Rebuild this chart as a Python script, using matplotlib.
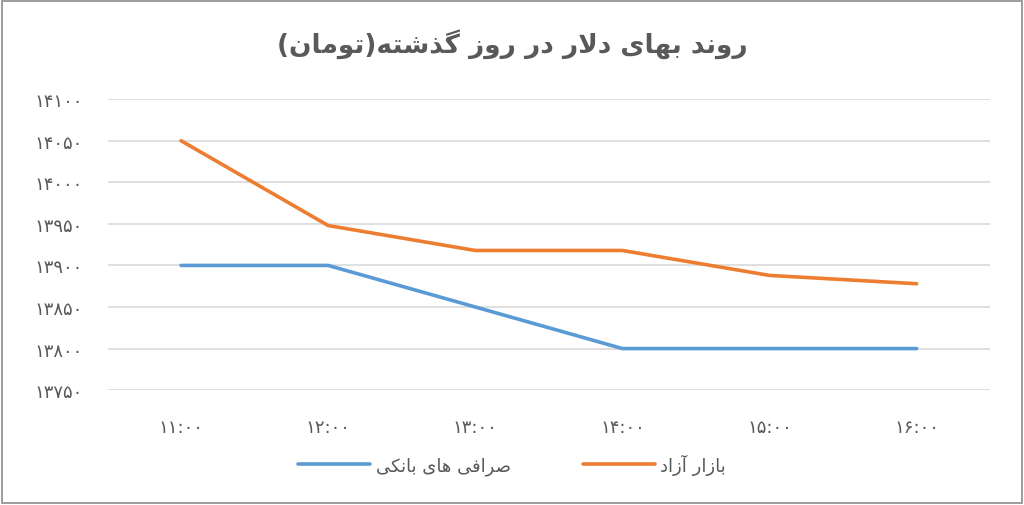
import matplotlib
matplotlib.use('Agg')
import matplotlib.pyplot as plt
from matplotlib.patches import Rectangle

# ── data ──
times = ['11:00', '12:00', '13:00', '14:00', '15:00', '16:00']
bank = [13900, 13900, 13850, 13800, 13800, 13800]
free = [14050, 13948, 13918, 13918, 13888, 13878]
yticks = [13750, 13800, 13850, 13900, 13950, 14000, 14050, 14100]

title = 'روند بهای دلار در روز گذشته(تومان)'
lbl_bank = 'صرافی های بانکی'
lbl_free = 'بازار آزاد'

# ── tiny Persian shaper (isolated, final, initial, medial) ──
FORMS = {
    'ا': (0xFE8D, 0xFE8E), 'آ': (0xFE81, 0xFE82),
    'د': (0xFEA9, 0xFEAA), 'ذ': (0xFEAB, 0xFEAC),
    'ر': (0xFEAD, 0xFEAE), 'ز': (0xFEAF, 0xFEB0), 'و': (0xFEED, 0xFEEE),
    'ب': (0xFE8F, 0xFE90, 0xFE91, 0xFE92), 'ت': (0xFE95, 0xFE96, 0xFE97, 0xFE98),
    'ش': (0xFEB5, 0xFEB6, 0xFEB7, 0xFEB8), 'ص': (0xFEB9, 0xFEBA, 0xFEBB, 0xFEBC),
    'ف': (0xFED1, 0xFED2, 0xFED3, 0xFED4), 'ل': (0xFEDD, 0xFEDE, 0xFEDF, 0xFEE0),
    'م': (0xFEE1, 0xFEE2, 0xFEE3, 0xFEE4), 'ن': (0xFEE5, 0xFEE6, 0xFEE7, 0xFEE8),
    'ه': (0xFEE9, 0xFEEA, 0xFEEB, 0xFEEC), 'ی': (0xFBFC, 0xFBFD, 0xFBFE, 0xFBFF),
    'ک': (0xFB8E, 0xFB8F, 0xFB90, 0xFB91), 'گ': (0xFB92, 0xFB93, 0xFB94, 0xFB95),
}


def shape(s):
    # lam-alef ligature
    chars = []
    i = 0
    while i < len(s):
        if s[i] == 'ل' and i + 1 < len(s) and s[i + 1] == 'ا':
            chars.append('LA')
            i += 2
        else:
            chars.append(s[i])
            i += 1

    def joins_next(c):
        return c in FORMS and len(FORMS[c]) == 4

    def is_ar(c):
        return c in FORMS or c == 'LA'

    out = []
    for k, c in enumerate(chars):
        prev = chars[k - 1] if k > 0 else None
        nxt = chars[k + 1] if k + 1 < len(chars) else None
        jp = prev is not None and joins_next(prev)
        if c == 'LA':
            out.append(chr(0xFEFC if jp else 0xFEFB))
            continue
        if c not in FORMS:
            out.append(c)
            continue
        f = FORMS[c]
        jn = len(f) == 4 and nxt is not None and is_ar(nxt)
        if jp and jn:
            out.append(chr(f[3]))
        elif jp:
            out.append(chr(f[1]))
        elif jn:
            out.append(chr(f[2]))
        else:
            out.append(chr(f[0]))
    vis = ''.join(reversed(out))
    return vis.translate(str.maketrans('()', ')('))


def fa_digits(s):
    return s.translate(str.maketrans('0123456789', '۰۱۲۳۴۵۶۷۸۹'))


plt.rcParams['font.family'] = ['DejaVu Sans']

fig = plt.figure(figsize=(10.24, 5.06), dpi=100)
fig.patch.set_facecolor('white')
fig.patches.append(Rectangle((0.002, 0.003), 0.996, 0.994, transform=fig.transFigure,
                             fill=False, edgecolor='#8c8c8c', linewidth=1.2))

ax = fig.add_axes([0.105, 0.227, 0.862, 0.575])
x = list(range(len(times)))
ax.plot(x, bank, color='#5b9bd5', lw=2.6, label=shape(lbl_bank), solid_capstyle='round')
ax.plot(x, free, color='#ed7d31', lw=2.6, label=shape(lbl_free), solid_capstyle='round')

ax.set_xlim(-0.5, 5.5)
ax.set_ylim(13750, 14100)
ax.set_yticks(yticks)
ax.set_yticklabels([fa_digits(str(v)) for v in yticks], color='#595959', fontsize=13)
ax.set_xticks(x)
ax.set_xticklabels([fa_digits(t) for t in times], color='#595959', fontsize=13)
ax.tick_params(length=0)
ax.tick_params(axis='y', pad=18)
ax.tick_params(axis='x', pad=20)
ax.grid(axis='y', color='#d9d9d9', lw=1.2)
for sp in ax.spines.values():
    sp.set_visible(False)

fig.text(0.5, 0.913, shape(title), ha='center', va='center', fontsize=19,
         fontweight='bold', color='#595959')
fig.legend(loc='center', bbox_to_anchor=(0.5, 0.08), ncol=2, frameon=False,
           fontsize=13, handlelength=4, handletextpad=0.3, columnspacing=4,
           labelcolor='#595959')

fig.savefig('out.png', dpi=100, facecolor='white')
